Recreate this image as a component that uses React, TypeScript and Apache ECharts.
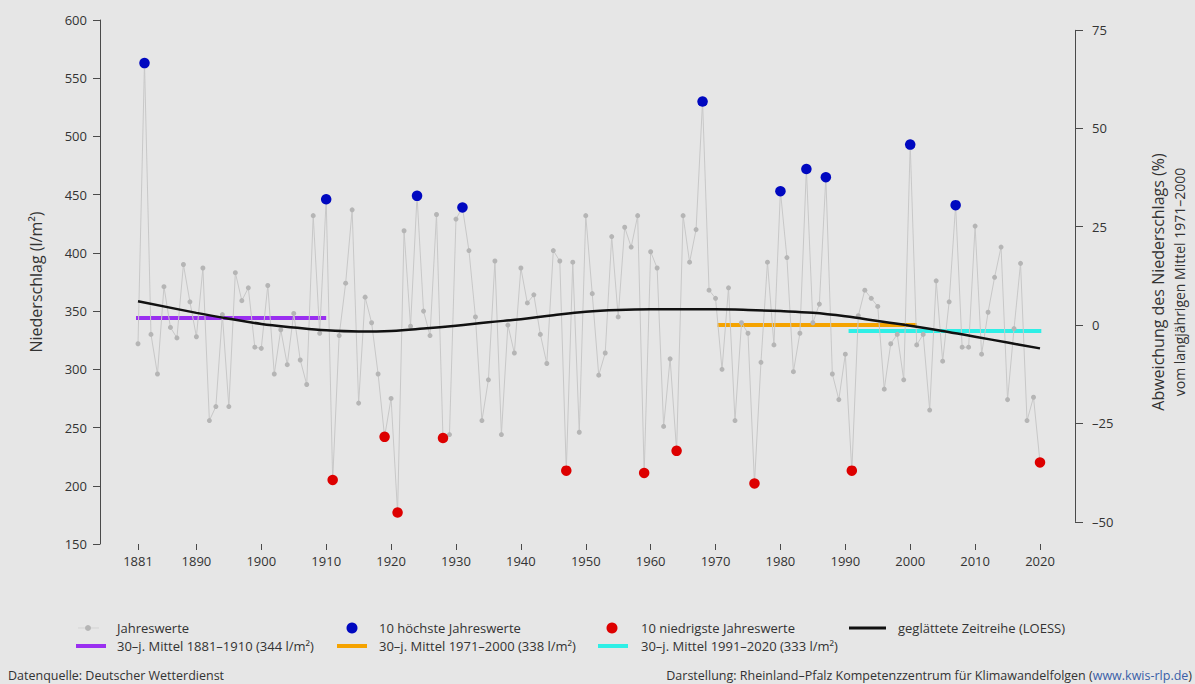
import React, { useEffect, useRef } from "react";
import * as echarts from "echarts";

// ---- data ----
const firstYear = 1881;
const precipitation: number[] = [
  322, 563, 330, 296, 371, 336, 327, 390, 358, 328, // 1881-1890
  387, 256, 268, 347, 268, 383, 359, 370, 319, 318, // 1891-1900
  372, 296, 334, 304, 348, 308, 287, 432, 331, 446, // 1901-1910
  205, 329, 374, 437, 271, 362, 340, 296, 242, 275, // 1911-1920
  177, 419, 337, 449, 350, 329, 433, 241, 244, 429, // 1921-1930
  439, 402, 345, 256, 291, 393, 244, 338, 314, 387, // 1931-1940
  357, 364, 330, 305, 402, 393, 213, 392, 246, 432, // 1941-1950
  365, 295, 314, 414, 345, 422, 405, 432, 211, 401, // 1951-1960
  387, 251, 309, 230, 432, 392, 420, 530, 368, 361, // 1961-1970
  300, 370, 256, 340, 331, 202, 306, 392, 321, 453, // 1971-1980
  396, 298, 331, 472, 340, 356, 465, 296, 274, 313, // 1981-1990
  213, 346, 368, 361, 354, 283, 322, 330, 291, 493, // 1991-2000
  321, 330, 265, 376, 307, 358, 441, 319, 319, 423, // 2001-2010
  313, 349, 379, 405, 274, 335, 391, 256, 276, 220, // 2011-2020
];
const years: number[] = precipitation.map((_, i) => firstYear + i);

const loessYears = [1881, 1890, 1895, 1900, 1905, 1910, 1915, 1920, 1925, 1930, 1935, 1940, 1945, 1950, 1955, 1960, 1965, 1970, 1975, 1980, 1985, 1990, 1995, 2000, 2005, 2010, 2015, 2020];
const loessValues = [358.5, 348.5, 343.5, 339, 336, 333.5, 332.5, 333, 335, 337.5, 340.5, 343, 346.5, 349.5, 351, 351.5, 351.5, 351.5, 351, 350, 348.5, 345.5, 341.5, 337.5, 333, 328, 323, 318];

const mean1881 = 344;
const mean1971 = 338;
const mean1991 = 333;
const referenceMean = mean1971; // right axis: deviation from 1971–2000

const xTickLabels = [1881, 1890, 1900, 1910, 1920, 1930, 1940, 1950, 1960, 1970, 1980, 1990, 2000, 2010, 2020];
const leftMin = 150;
const leftMax = 600;
const rightTicks = [-50, -25, 0, 25, 50, 75];

const COLORS = {
  bg: "#e6e6e6",
  text: "#333333",
  axis: "#4a4a4a",
  grey: "#b5b5b5",
  greyLine: "#c8c8c8",
  blue: "#0008c0",
  red: "#dd0000",
  purple: "#9a2ff0",
  orange: "#f5a300",
  cyan: "#2eefe6",
  black: "#111111",
};
const FONT = "'Open Sans', 'Noto Sans', sans-serif";

export default function App() {
  const ref = useRef<HTMLDivElement>(null);

  useEffect(() => {
    if (!ref.current) return;
    const chart = echarts.init(ref.current, null, { renderer: "svg" });

    const pairs = years.map((y, i) => [y, precipitation[i]]);
    const sorted = [...pairs].sort((a, b) => b[1] - a[1]);
    const highest = sorted.slice(0, 10);
    const lowest = sorted.slice(-10);

    const rMin = (leftMin / referenceMean - 1) * 100;
    const rMax = (leftMax / referenceMean - 1) * 100;

    const option: any = {
      animation: false,
      backgroundColor: COLORS.bg,
      textStyle: { fontFamily: FONT },
      grid: { left: 138, right: 155, top: 20, bottom: 140 },
      xAxis: {
        type: "value",
        min: firstYear,
        max: years[years.length - 1],
        axisLine: { show: false, onZero: false },
        axisTick: { show: true, customValues: xTickLabels, length: 6, lineStyle: { color: COLORS.axis } },
        axisLabel: {
          customValues: xTickLabels,
          color: COLORS.text,
          fontSize: 13,
          margin: 10,
          fontFamily: FONT,
          formatter: (v: number) => String(v),
        },
        splitLine: { show: false },
      },
      yAxis: [
        {
          type: "value",
          position: "left",
          min: leftMin,
          max: leftMax,
          interval: 50,
          offset: 38,
          axisLine: { show: true, lineStyle: { color: COLORS.axis } },
          axisTick: { show: true, length: 7, lineStyle: { color: COLORS.axis } },
          axisLabel: { color: COLORS.text, fontSize: 13, margin: 13, fontFamily: FONT },
          splitLine: { show: false },
          name: "Niederschlag (l/m²)",
          nameLocation: "middle",
          nameRotate: 90,
          nameGap: 56,
          nameTextStyle: { color: COLORS.text, fontSize: 16, fontFamily: FONT },
        },
        {
          type: "value",
          position: "right",
          min: rMin,
          max: rMax,
          offset: 35,
          axisLine: { show: false },
          axisTick: { show: true, customValues: rightTicks, length: 8, lineStyle: { color: COLORS.axis } },
          axisLabel: {
            customValues: rightTicks,
            color: COLORS.text,
            fontSize: 13,
            margin: 17,
            fontFamily: FONT,
            formatter: (v: number) => (v < 0 ? "–" + Math.abs(v) : String(v)),
          },
          splitLine: { show: false },
          name: "{a|Abweichung des Niederschlags (%)}\n{b|vom langjährigen Mittel 1971–2000}",
          nameLocation: "middle",
          nameRotate: 90,
          nameGap: 72,
          nameTextStyle: {
            color: COLORS.text,
            fontFamily: FONT,
            rich: {
              a: { fontSize: 16, color: COLORS.text, fontFamily: FONT, lineHeight: 22 },
              b: { fontSize: 14, color: COLORS.text, fontFamily: FONT, lineHeight: 20 },
            },
          },
        },
      ],
      series: [
        {
          name: "30-j. Mittel 1881–1910",
          type: "line",
          data: [[1880.5, mean1881], [1910, mean1881]],
          symbol: "none",
          clip: false,
          silent: true,
          lineStyle: { color: COLORS.purple, width: 4 },
          z: 1,
        },
        {
          name: "30-j. Mittel 1971–2000",
          type: "line",
          data: [[1970.3, mean1971], [2001, mean1971]],
          symbol: "none",
          clip: false,
          silent: true,
          lineStyle: { color: COLORS.orange, width: 4 },
          z: 1,
        },
        {
          name: "30-j. Mittel 1991–2020",
          type: "line",
          data: [[1990.5, mean1991], [2020.2, mean1991]],
          symbol: "none",
          clip: false,
          silent: true,
          lineStyle: { color: COLORS.cyan, width: 4 },
          z: 1,
        },
        {
          name: "Jahreswerte",
          type: "line",
          data: pairs,
          symbol: "circle",
          symbolSize: 5,
          showAllSymbol: true,
          clip: false,
          itemStyle: { color: COLORS.grey },
          lineStyle: { color: COLORS.greyLine, width: 1 },
          z: 2,
        },
        {
          name: "geglättete Zeitreihe (LOESS)",
          type: "line",
          data: loessYears.map((y, i) => [y, loessValues[i]]),
          smooth: 0.4,
          symbol: "none",
          lineStyle: { color: COLORS.black, width: 2.5 },
          z: 3,
        },
        {
          name: "10 höchste Jahreswerte",
          type: "scatter",
          data: highest,
          symbolSize: 10.5,
          clip: false,
          itemStyle: { color: COLORS.blue, opacity: 1 },
          z: 4,
        },
        {
          name: "10 niedrigste Jahreswerte",
          type: "scatter",
          data: lowest,
          symbolSize: 10.5,
          clip: false,
          itemStyle: { color: COLORS.red, opacity: 1 },
          z: 4,
        },
      ],
    };

    chart.setOption(option);

    // right axis line from 75 % to -50 % (positions from the axis scale)
    const yTop = chart.convertToPixel({ yAxisIndex: 1 }, rightTicks[rightTicks.length - 1]) as number;
    const yBot = chart.convertToPixel({ yAxisIndex: 1 }, rightTicks[0]) as number;
    const xLast = chart.convertToPixel({ xAxisIndex: 0 }, years[years.length - 1]) as number;
    const xRightAxis = Math.round(xLast + 35) + 0.5;

    const txt = (x: number, y: number, text: string, size = 13) => ({
      type: "text",
      x,
      y,
      silent: true,
      style: { text, fill: COLORS.text, fontSize: size, fontFamily: FONT, verticalAlign: "middle", align: "left" },
    });
    const r1 = 628;
    const r2 = 646;

    const graphic: any[] = [
      { type: "line", silent: true, shape: { x1: xRightAxis, y1: yTop, x2: xRightAxis, y2: yBot }, style: { stroke: COLORS.axis, lineWidth: 1 } },
      // legend
      { type: "line", silent: true, shape: { x1: 78, y1: r1, x2: 99, y2: r1 }, style: { stroke: "#d3d3d3", lineWidth: 1 } },
      { type: "circle", silent: true, shape: { cx: 88, cy: r1, r: 3 }, style: { fill: COLORS.grey } },
      txt(117, r1, "Jahreswerte"),
      { type: "rect", silent: true, shape: { x: 76, y: r2 - 2, width: 30, height: 4 }, style: { fill: COLORS.purple } },
      txt(117, r2, `30–j. Mittel 1881–1910 (${mean1881} l/m²)`),
      { type: "circle", silent: true, shape: { cx: 352, cy: r1, r: 5.5 }, style: { fill: COLORS.blue } },
      txt(379, r1, "10 höchste Jahreswerte"),
      { type: "rect", silent: true, shape: { x: 337, y: r2 - 2, width: 30, height: 4 }, style: { fill: COLORS.orange } },
      txt(379, r2, `30–j. Mittel 1971–2000 (${mean1971} l/m²)`),
      { type: "circle", silent: true, shape: { cx: 612, cy: r1, r: 5.5 }, style: { fill: COLORS.red } },
      txt(641, r1, "10 niedrigste Jahreswerte"),
      { type: "rect", silent: true, shape: { x: 598, y: r2 - 2, width: 30, height: 4 }, style: { fill: COLORS.cyan } },
      txt(641, r2, `30–j. Mittel 1991–2020 (${mean1991} l/m²)`),
      { type: "rect", silent: true, shape: { x: 849, y: r1 - 1.5, width: 37, height: 3 }, style: { fill: COLORS.black } },
      txt(898, r1, "geglättete Zeitreihe (LOESS)"),
      // footer
      txt(8, 675, "Datenquelle: Deutscher Wetterdienst", 12.5),
      {
        type: "text",
        x: 1192,
        y: 675,
        silent: true,
        style: {
          text: "{t|Darstellung: Rheinland–Pfalz Kompetenzzentrum für Klimawandelfolgen (}{u|www.kwis-rlp.de}{t|)}",
          align: "right",
          verticalAlign: "middle",
          rich: {
            t: { fill: COLORS.text, fontSize: 12.5, fontFamily: FONT },
            u: { fill: "#3a5fa8", fontSize: 12.5, fontFamily: FONT },
          },
        },
      },
    ];

    chart.setOption({ graphic });

    return () => chart.dispose();
  }, []);

  return <div ref={ref} style={{ position: "fixed", left: 0, top: 0, width: 1195, height: 684 }} />;
}
